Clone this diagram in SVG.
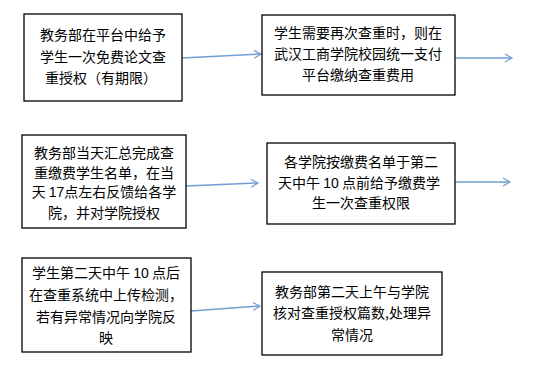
<svg xmlns="http://www.w3.org/2000/svg" width="548" height="380" viewBox="0 0 548 380">
<style>
.box{fill:#fff;stroke:#000;stroke-width:1.3}
.t{font-family:"Noto Sans CJK SC","Noto Sans CJK JP",sans-serif;font-size:14px;fill:#000;text-anchor:middle}
.n{font-family:"Liberation Sans",sans-serif}
.c{fill:none;stroke:#6f9fd3;stroke-width:1.5}
</style>
<defs>
<marker id="ah" markerWidth="10" markerHeight="10" refX="8" refY="5" orient="auto" markerUnits="userSpaceOnUse">
<path d="M1,1 L8,5 L1,9" fill="none" stroke="#6f9fd3" stroke-width="1.2"/>
</marker>
</defs>
<rect width="548" height="380" fill="#fff"/>
<g id="connectors">
<line class="c" x1="182" y1="58" x2="261" y2="54" marker-end="url(#ah)"/>
<line class="c" x1="455" y1="58" x2="512" y2="58" marker-end="url(#ah)"/>
<line class="c" x1="186" y1="186" x2="258" y2="183" marker-end="url(#ah)"/>
<line class="c" x1="455" y1="182" x2="510" y2="182" marker-end="url(#ah)"/>
<line class="c" x1="191" y1="311" x2="260" y2="306" marker-end="url(#ah)"/>
</g>
<g id="n1">
<rect class="box" x="24" y="14" width="158" height="87"/>
<text class="t" x="103" y="40">教务部在平台中给予</text>
<text class="t" x="103" y="62">学生一次免费论文查</text>
<text class="t" x="101" y="83">重授权（有期限）</text>
</g>
<g id="n2">
<rect class="box" x="262" y="15" width="193" height="80"/>
<text class="t" x="358" y="38">学生需要再次查重时，则在</text>
<text class="t" x="358" y="59">武汉工商学院校园统一支付</text>
<text class="t" x="358" y="80">平台缴纳查重费用</text>
</g>
<g id="n3">
<rect class="box" x="22" y="135" width="164" height="93"/>
<text class="t" x="104" y="158">教务部当天汇总完成查</text>
<text class="t" x="104" y="178">重缴费学生名单，在当</text>
<text class="t" x="104" y="197">天 <tspan class="n">17</tspan>点左右反馈给各学</text>
<text class="t" x="104" y="218">院，并对学院授权</text>
</g>
<g id="n4">
<rect class="box" x="267" y="143" width="188" height="81"/>
<text class="t" x="361" y="167">各学院按缴费名单于第二</text>
<text class="t" x="359" y="188">天中午 <tspan class="n">10</tspan> 点前给予缴费学</text>
<text class="t" x="361" y="208">生一次查重权限</text>
</g>
<g id="n5">
<rect class="box" x="22" y="258" width="169" height="94"/>
<text class="t" x="106" y="278">学生第二天中午 <tspan class="n">10</tspan> 点后</text>
<text class="t" x="106" y="300">在查重系统中上传检测，</text>
<text class="t" x="106" y="322">若有异常情况向学院反</text>
<text class="t" x="106" y="343">映</text>
</g>
<g id="n6">
<rect class="box" x="262" y="272" width="180" height="83"/>
<text class="t" x="352" y="297">教务部第二天上午与学院</text>
<text class="t" x="352" y="318">核对查重授权篇数,处理异</text>
<text class="t" x="352" y="340">常情况</text>
</g>
</svg>
